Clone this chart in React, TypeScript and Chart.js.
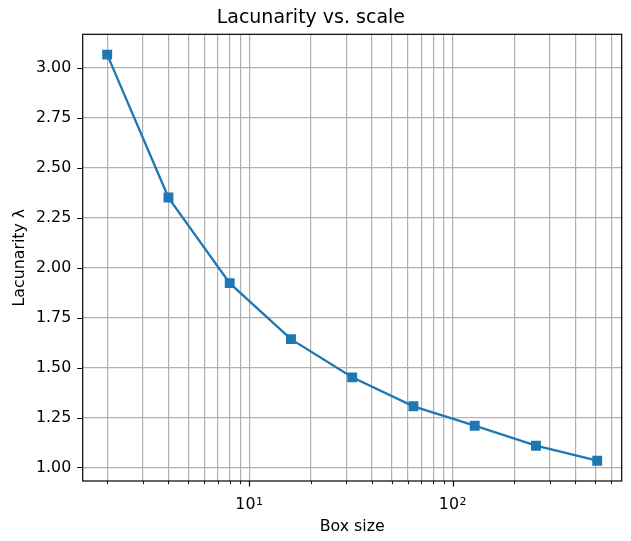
import { useEffect, useRef } from 'react';
import { Chart, registerables } from 'chart.js';

Chart.register(...registerables);

// Box sizes (log-spaced) and measured lacunarity at each scale
const boxSizes = [2, 4, 8, 16, 32, 64, 128, 256, 512];
const lacunarity = [3.065, 2.35, 1.922, 1.642, 1.451, 1.306, 1.209, 1.109, 1.034];

// Axis ticks
const yTicks = [1.0, 1.25, 1.5, 1.75, 2.0, 2.25, 2.5, 2.75, 3.0];
const xMajorTicks = [10, 100];
const xMinorTicks = [2, 3, 4, 5, 6, 7, 8, 9, 20, 30, 40, 50, 60, 70, 80, 90, 200, 300, 400, 500, 600];
// Decade labels as base + exponent
const xTickBase = '10';
const xTickExponents: Record<number, string> = { 10: '1', 100: '2' };

const FONT = 'DejaVu Sans';
const LINE_BLUE = '#1f77b4';
const GRID_GREY = '#b0b0b0';
const TICK_SIZE = 15.8;
const SUP_SIZE = 11;

// 5% padding around the data range (log space for x)
const lxMin = Math.log10(Math.min(...boxSizes));
const lxMax = Math.log10(Math.max(...boxSizes));
const lxPad = (lxMax - lxMin) * 0.05;
const xMin = Math.pow(10, lxMin - lxPad);
const xMax = Math.pow(10, lxMax + lxPad);
const yLo = Math.min(...lacunarity);
const yHi = Math.max(...lacunarity);
const yPad = (yHi - yLo) * 0.05;

// Frame around the plotting area, major/minor tick marks and the decade labels
const axesFrame = {
  id: 'axesFrame',
  afterDatasetsDraw(chart: any) {
    const { ctx, chartArea, scales } = chart;
    const { left, right, top, bottom } = chartArea;
    const x = scales.x;
    const y = scales.y;
    ctx.save();
    ctx.strokeStyle = '#000';
    ctx.lineWidth = 1.2;
    ctx.beginPath();
    for (const v of xMajorTicks) {
      const px = Math.round(x.getPixelForValue(v)) + 0.5;
      ctx.moveTo(px, bottom);
      ctx.lineTo(px, bottom + 5.5);
    }
    for (const v of yTicks) {
      const py = Math.round(y.getPixelForValue(v)) + 0.5;
      ctx.moveTo(left, py);
      ctx.lineTo(left - 5.5, py);
    }
    ctx.stroke();
    ctx.lineWidth = 0.9;
    ctx.beginPath();
    for (const v of xMinorTicks) {
      const px = Math.round(x.getPixelForValue(v)) + 0.5;
      ctx.moveTo(px, bottom);
      ctx.lineTo(px, bottom + 3.2);
    }
    ctx.stroke();
    ctx.lineWidth = 1.2;
    ctx.strokeRect(left, top, right - left, bottom - top);

    // decade labels: "10" with a raised, smaller exponent
    ctx.fillStyle = '#000';
    ctx.textBaseline = 'alphabetic';
    ctx.textAlign = 'left';
    for (const v of xMajorTicks) {
      const px = x.getPixelForValue(v);
      ctx.font = `${TICK_SIZE}px "${FONT}"`;
      const wBase = ctx.measureText(xTickBase).width;
      ctx.font = `${SUP_SIZE}px "${FONT}"`;
      const exp = xTickExponents[v];
      const wExp = ctx.measureText(exp).width;
      const x0 = px - (wBase + wExp) / 2 - 0.5;
      ctx.font = `${TICK_SIZE}px "${FONT}"`;
      ctx.fillText(xTickBase, x0, bottom + 28.3);
      ctx.font = `${SUP_SIZE}px "${FONT}"`;
      ctx.fillText(exp, x0 + wBase + 0.5, bottom + 23.5);
    }
    ctx.restore();
  },
};

export default function App() {
  const canvasRef = useRef<HTMLCanvasElement>(null);

  useEffect(() => {
    const canvas = canvasRef.current;
    if (!canvas) return;
    const chart = new Chart(canvas, {
      type: 'line',
      data: {
        datasets: [
          {
            label: 'Lacunarity',
            data: boxSizes.map((b, i) => ({ x: b, y: lacunarity[i] })),
            borderColor: LINE_BLUE,
            backgroundColor: LINE_BLUE,
            borderWidth: 2.3,
            pointStyle: 'rect',
            pointRadius: 6,
            pointBorderWidth: 1.4,
            pointBackgroundColor: LINE_BLUE,
            pointBorderColor: LINE_BLUE,
            tension: 0,
            fill: false,
          },
        ],
      },
      options: {
        animation: false,
        responsive: false,
        devicePixelRatio: 1,
        layout: { padding: { left: 0, right: 9.3, top: 0, bottom: 0 } },
        plugins: {
          legend: { display: false },
          tooltip: { enabled: false },
          title: {
            display: true,
            text: 'Lacunarity vs. scale',
            color: '#000',
            font: { family: FONT, size: 19, weight: 'normal' },
            padding: { top: 7, bottom: 4.5 },
          },
        },
        scales: {
          x: {
            type: 'logarithmic',
            min: xMin,
            max: xMax,
            afterBuildTicks: (scale: any) => {
              scale.ticks = [...xMinorTicks, ...xMajorTicks]
                .sort((a, b) => a - b)
                .map((v) => ({ value: v }));
            },
            afterFit: (scale: any) => {
              scale.height = 60;
            },
            ticks: {
              autoSkip: false,
              maxRotation: 0,
              padding: 13,
              color: '#000',
              font: { family: FONT, size: TICK_SIZE },
              callback: () => '',
            },
            grid: { color: GRID_GREY, lineWidth: 1.2, drawTicks: false },
            border: { display: false },
            title: {
              display: true,
              text: 'Box size',
              color: '#000',
              font: { family: FONT, size: TICK_SIZE },
              padding: { top: 0, bottom: 4.5 },
            },
          },
          y: {
            type: 'linear',
            min: yLo - yPad,
            max: yHi + yPad,
            afterBuildTicks: (scale: any) => {
              scale.ticks = yTicks.map((v) => ({ value: v }));
            },
            afterFit: (scale: any) => {
              scale.width = 82.7;
            },
            ticks: {
              autoSkip: false,
              padding: 11.5,
              color: '#000',
              font: { family: FONT, size: TICK_SIZE },
              callback: (value: any) => Number(value).toFixed(2),
            },
            grid: { color: GRID_GREY, lineWidth: 1.2, drawTicks: false },
            border: { display: false },
            title: {
              display: true,
              text: 'Lacunarity λ',
              color: '#000',
              font: { family: FONT, size: TICK_SIZE },
              padding: { top: 10, bottom: 0 },
            },
          },
        },
      },
      plugins: [axesFrame],
    });
    return () => chart.destroy();
  }, []);

  return (
    <div style={{ position: 'fixed', left: 0, top: 0, width: 631, height: 541, background: '#fff' }}>
      <canvas ref={canvasRef} width={631} height={541} style={{ display: 'block', width: 631, height: 541 }} />
    </div>
  );
}
